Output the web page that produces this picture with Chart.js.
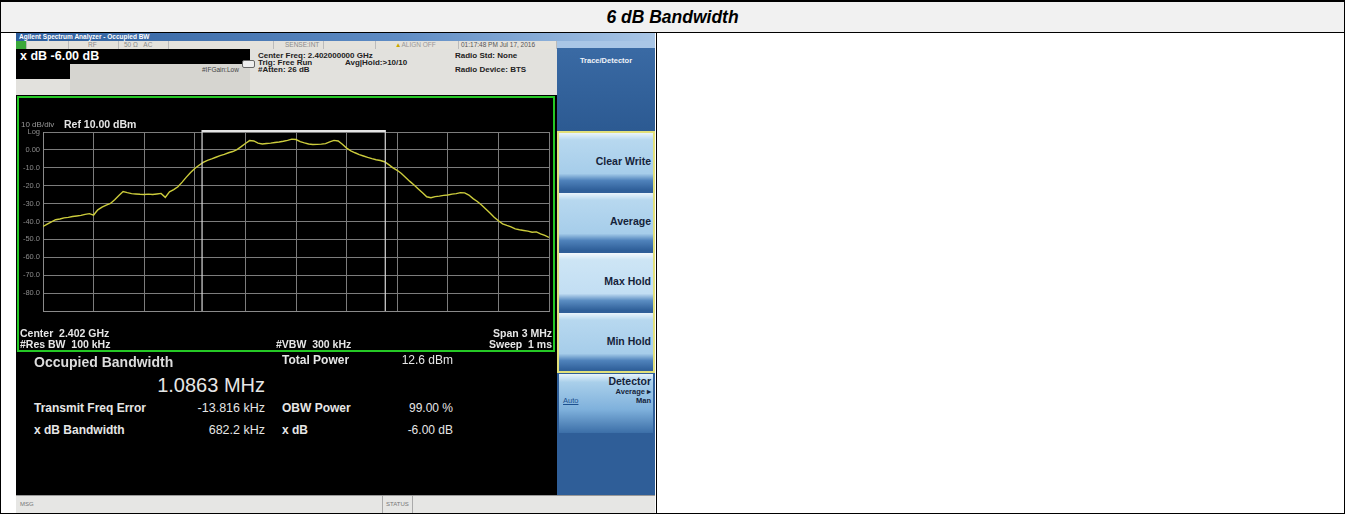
<!DOCTYPE html>
<html>
<head>
<meta charset="utf-8">
<script src="https://cdn.jsdelivr.net/npm/chart.js@4/dist/chart.umd.min.js"></script>
<style>
  body { margin: 0; width: 1346px; height: 515px; background: #fff; font-family: "Liberation Sans", Arial, sans-serif; position: relative; overflow: hidden; }
  .abs { position: absolute; white-space: nowrap; }
  .frame { position: absolute; left: 0; top: 0; width: 1345px; height: 514px; border: 1px solid #000; border-top-width: 2px; box-sizing: border-box; }
  .title-row { position: absolute; left: 1px; top: 2px; width: 1343px; height: 30px; background: #f1f1f1; border-bottom: 1px solid #000; }
  .title-row span { display: block; text-align: center; font: italic bold 17.5px "Liberation Sans", Arial, sans-serif; line-height: 30px; color: #000; }
  .col-div { position: absolute; left: 656px; top: 32px; width: 1px; height: 482px; background: #000; }

  /* analyser screen */
  .scr { position: absolute; left: 16px; top: 33px; width: 639px; height: 480px; background: #000; overflow: hidden; filter: blur(0.35px); }
  .tbar { position: absolute; left: 0; top: 0; width: 639px; height: 8px; background: linear-gradient(90deg, #2c5d9c, #5f8cc4 60%, #a9c6e6); color: #fff; font: bold 6.5px "Liberation Sans", Arial; line-height: 8px; padding-left: 3px; box-sizing: border-box; }
  .sbar { position: absolute; left: 0; top: 8px; width: 541px; height: 8px; background: #e4e2dc; font: 6.5px "Liberation Sans", Arial; color: #8a8a8a; line-height: 8px; }
  .sbar .c { position: absolute; top: 0; height: 8px; border-right: 1px solid #bbb; }
  .info { position: absolute; left: 0; top: 16px; width: 541px; height: 46px; background: #e2e1dd; }
  .info .t { position: absolute; font: bold 8px "Liberation Sans", Arial; color: #222; white-space: nowrap; }
  .plot { position: absolute; left: 1px; top: 63px; width: 538px; height: 256px; border: 2px solid #25c825; box-sizing: border-box; background: #000; }
  .lbl { position: absolute; color: #e6e6e6; white-space: nowrap; }
  .soft { position: absolute; left: 541px; top: 15px; width: 98px; height: 447px; background: #2f5e98; }
  .key { position: absolute; left: 2px; width: 94px; height: 58px; background: linear-gradient(180deg, #eaf4fb 0%, #b7d8ef 12%, #a6cdea 70%, #4f82bb 82%, #2c5c96 100%); color: #15233a; font: bold 10.5px "Liberation Sans", Arial; text-align: right; box-sizing: border-box; padding-right: 2px; }
  .msg { position: absolute; left: 0; top: 462px; width: 639px; height: 18px; background: #e6e6e4; border-top: 1px solid #999; font: 6px "Liberation Sans", Arial; color: #777; }
</style>
</head>
<body>
<div class="title-row"><span>6 dB Bandwidth</span></div>
<div class="frame"></div>
<div class="col-div"></div>

<div class="scr">
  <div class="tbar">Agilent Spectrum Analyzer - Occupied BW</div>
  <div style="position:absolute;left:541px;top:8px;width:98px;height:7px;background:#a9c6e6;"></div>
  <div class="sbar">
    <div class="c" style="left:0;width:10px;background:#3aa83a;"></div>
    <div class="c" style="left:10px;width:42px;"></div>
    <div class="c" style="left:52px;width:50px;"><span style="position:absolute;left:20px;">RF</span></div>
    <div class="c" style="left:102px;width:50px;"><span style="position:absolute;left:6px;">50 Ω &nbsp; AC</span></div>
    <div class="c" style="left:152px;width:105px;"></div>
    <div class="c" style="left:257px;width:50px;"><span style="position:absolute;left:12px;">SENSE:INT</span></div>
    <div class="c" style="left:307px;width:52px;"></div>
    <div class="c" style="left:359px;width:83px;"><span style="position:absolute;left:20px;color:#999;"><span style="color:#c9a800;">&#9650;</span>ALIGN OFF</span></div>
    <div class="c" style="left:442px;width:98px;"><span style="position:absolute;left:3px;color:#555;">01:17:48 PM Jul 17, 2016</span></div>
  </div>
  <div class="info">
    <div style="position:absolute;left:0;top:0;width:234px;height:15px;background:#000;"></div>
    <div class="lbl" style="left:4px;top:0;font:bold 12.5px 'Liberation Sans',Arial;line-height:15px;color:#fff;">x dB -6.00 dB</div>
    <div style="position:absolute;left:0;top:15px;width:54px;height:15px;background:#000;"></div>
    <div style="position:absolute;left:54px;top:15px;width:180px;height:31px;background:#d6d5d0;"></div>
    <div class="t" style="left:186px;top:17px;font-weight:normal;font-size:6.5px;color:#444;">#IFGain:Low</div>
    <div style="position:absolute;left:226px;top:11px;width:11px;height:6px;border:1px solid #666;border-radius:2px;background:#eee;"></div>
    <div class="t" style="left:242px;top:2px;">Center Freq: 2.402000000 GHz</div>
    <div class="t" style="left:242px;top:9px;">Trig: Free Run</div>
    <div class="t" style="left:329px;top:9px;">Avg|Hold:&gt;10/10</div>
    <div class="t" style="left:242px;top:16px;">#Atten: 26 dB</div>
    <div class="t" style="left:439px;top:2px;">Radio Std: None</div>
    <div class="t" style="left:439px;top:16px;">Radio Device: BTS</div>
  </div>

  <div class="plot">
    <canvas id="trace" width="534" height="252" style="position:absolute;left:0;top:0;"></canvas>
    <div class="lbl" style="left:2px;top:22px;font:8px 'Liberation Sans',Arial;color:#9a9a9a;">10 dB/div</div>
    <div class="lbl" style="left:45px;top:20px;font:bold 10.5px 'Liberation Sans',Arial;">Ref 10.00 dBm</div>
    <div class="lbl" style="left:1px;top:229px;font:bold 10.5px 'Liberation Sans',Arial;">Center&nbsp; 2.402 GHz</div>
    <div class="lbl" style="left:1px;top:240px;font:bold 10.5px 'Liberation Sans',Arial;">#Res BW&nbsp; 100 kHz</div>
    <div class="lbl" style="left:257px;top:240px;font:bold 10.5px 'Liberation Sans',Arial;">#VBW&nbsp; 300 kHz</div>
    <div class="lbl" style="right:1px;top:229px;font:bold 10.5px 'Liberation Sans',Arial;">Span 3 MHz</div>
    <div class="lbl" style="right:1px;top:240px;font:bold 10.5px 'Liberation Sans',Arial;">Sweep&nbsp; 1 ms</div>
  </div>

  <div class="lbl" style="left:18px;top:321px;font:bold 14px 'Liberation Sans',Arial;color:#dcdcdc;">Occupied Bandwidth</div>
  <div class="lbl" style="left:120px;top:341px;font:20px 'Liberation Sans',Arial;width:129px;text-align:right;">1.0863 MHz</div>
  <div class="lbl" style="left:18px;top:368px;font:bold 12px 'Liberation Sans',Arial;">Transmit Freq Error</div>
  <div class="lbl" style="left:18px;top:390px;font:bold 12px 'Liberation Sans',Arial;">x dB Bandwidth</div>
  <div class="lbl" style="left:160px;top:368px;font:12.5px 'Liberation Sans',Arial;width:89px;text-align:right;">-13.816 kHz</div>
  <div class="lbl" style="left:160px;top:390px;font:12.5px 'Liberation Sans',Arial;width:89px;text-align:right;">682.2 kHz</div>
  <div class="lbl" style="left:266px;top:320px;font:bold 12px 'Liberation Sans',Arial;">Total Power</div>
  <div class="lbl" style="left:266px;top:368px;font:bold 12px 'Liberation Sans',Arial;">OBW Power</div>
  <div class="lbl" style="left:266px;top:390px;font:bold 12px 'Liberation Sans',Arial;">x dB</div>
  <div class="lbl" style="left:360px;top:320px;font:12px 'Liberation Sans',Arial;width:77px;text-align:right;">12.6 dBm</div>
  <div class="lbl" style="left:360px;top:368px;font:12px 'Liberation Sans',Arial;width:77px;text-align:right;">99.00 %</div>
  <div class="lbl" style="left:360px;top:390px;font:12px 'Liberation Sans',Arial;width:77px;text-align:right;">-6.00 dB</div>

  <div class="soft">
    <div style="position:absolute;left:0;top:0;width:98px;height:83px;background:linear-gradient(180deg,#3a6aa4,#2c5a92);"></div>
    <div class="lbl" style="left:0;width:98px;text-align:center;top:8px;font:bold 7.5px 'Liberation Sans',Arial;color:#f0f4fa;">Trace/Detector</div>
    <div style="position:absolute;left:0;top:83px;width:94px;height:238px;border:2px solid #e2e07a;"></div>
    <div class="key" style="top:85px;line-height:56px;">Clear Write</div>
    <div class="key" style="top:145px;line-height:56px;">Average</div>
    <div class="key" style="top:205px;line-height:56px;background:linear-gradient(180deg,#f4f9fd 0%,#cde5f5 12%,#c2def3 70%,#5b8dc2 82%,#2c5c96 100%);">Max Hold</div>
    <div class="key" style="top:265px;line-height:56px;">Min Hold</div>
    <div class="key" style="top:326px;height:59px;background:linear-gradient(180deg,#e8f3fb 0%,#a9cfea 14%,#7fb1dc 60%,#3c6fa8 100%);">
      <div style="padding-top:2px;line-height:11px;">Detector</div>
      <div style="font-size:7.5px;line-height:9px;">Average &#9656;</div>
      <div style="font-size:7.5px;line-height:9px;">Man</div>
      <div style="position:absolute;left:4px;top:22px;font:7.5px 'Liberation Sans',Arial;color:#1b4f8e;text-decoration:underline;">Auto</div>
    </div>
  </div>

  <div class="msg">
    <span class="abs" style="left:4px;top:5px;">MSG</span>
    <span class="abs" style="left:366px;top:0;height:18px;border-left:1px solid #aaa;border-right:1px solid #aaa;padding:5px 3px 0;box-sizing:border-box;">STATUS</span>
  </div>
</div>

<script>
// sweep setup: 2.402 GHz centre, 3 MHz span, 10 dB/div from a +10 dBm reference
const freqOffsetMHz = [
  -1.500, -1.475, -1.450, -1.425, -1.400, -1.375, -1.350, -1.325, -1.300, -1.275,
  -1.250, -1.225, -1.200, -1.175, -1.150, -1.125, -1.100, -1.075, -1.050, -1.025,
  -1.000, -0.975, -0.950, -0.925, -0.900, -0.875, -0.850, -0.825, -0.800, -0.775,
  -0.750, -0.725, -0.700, -0.675, -0.650, -0.625, -0.600, -0.575, -0.550, -0.525,
  -0.500, -0.475, -0.450, -0.425, -0.400, -0.375, -0.350, -0.325, -0.300, -0.275,
  -0.250, -0.225, -0.200, -0.175, -0.150, -0.125, -0.100, -0.075, -0.050, -0.025,
   0.000,  0.025,  0.050,  0.075,  0.100,  0.125,  0.150,  0.175,  0.200,  0.225,
   0.250,  0.275,  0.300,  0.325,  0.350,  0.375,  0.400,  0.425,  0.450,  0.475,
   0.500,  0.525,  0.550,  0.575,  0.600,  0.625,  0.650,  0.675,  0.700,  0.725,
   0.750,  0.775,  0.800,  0.825,  0.850,  0.875,  0.900,  0.925,  0.950,  0.975,
   1.000,  1.025,  1.050,  1.075,  1.100,  1.125,  1.150,  1.175,  1.200,  1.225,
   1.250,  1.275,  1.300,  1.325,  1.350,  1.375,  1.400,  1.425,  1.450,  1.475,
   1.500
];
const traceDbm = [
  -42.8, -41.5, -40.2, -39.0, -38.6, -38.0, -37.7, -37.2, -36.9, -36.6,
  -36.0, -35.6, -36.4, -33.5, -32.0, -30.8, -29.9, -27.8, -25.5, -23.3,
  -23.9, -24.4, -24.6, -24.8, -24.9, -24.7, -24.9, -24.6, -24.3, -26.5,
  -23.4, -22.2, -20.6, -18.0, -15.2, -12.6, -10.4,  -8.6,  -7.0,  -5.8,
   -5.0,  -4.1,  -3.2,  -2.5,  -1.6,  -0.9,   0.2,   1.8,   3.6,   5.2,
    5.0,   3.8,   3.3,   3.6,   3.8,   4.1,   4.4,   4.8,   5.3,   6.0,
    5.8,   4.6,   3.9,   3.3,   3.0,   3.1,   3.2,   3.5,   4.5,   5.3,
    5.0,   3.2,   1.0,  -0.5,  -1.6,  -2.6,  -3.4,  -4.2,  -4.9,  -5.5,
   -5.9,  -6.6,  -8.2, -10.0, -11.4, -13.2, -15.4, -17.6, -19.6, -21.8,
  -24.0, -26.2, -26.7, -26.1, -25.8, -25.4, -25.2, -24.7, -24.4, -23.9,
  -24.0, -25.2, -27.2, -28.8, -30.8, -33.0, -35.2, -37.6, -39.6, -41.3,
  -42.2, -43.0, -44.1, -44.6, -45.0, -45.4, -46.0, -45.8, -46.9, -47.8,
  -48.9
];
const xGridMHz = [-1.5, -1.2, -0.9, -0.6, -0.3, 0, 0.3, 0.6, 0.9, 1.2, 1.5];
const yGridDbm = [10, 0, -10, -20, -30, -40, -50, -60, -70, -80, -90];
const obwMHz = 1.0863;
const freqErrorKHz = -13.816;

// OBW edges plus the bracket joining them along the reference line
const obwMarkers = {
  id: 'obwMarkers',
  afterDatasetsDraw(chart) {
    const { ctx, scales: { x, y } } = chart;
    const mid = freqErrorKHz / 1000;
    const left = x.getPixelForValue(mid - obwMHz / 2);
    const right = x.getPixelForValue(mid + obwMHz / 2);
    const top = y.getPixelForValue(10), bottom = y.getPixelForValue(-90);
    ctx.save();
    ctx.strokeStyle = '#d8d8d8';
    ctx.lineWidth = 1.2;
    ctx.beginPath();
    ctx.moveTo(left, bottom); ctx.lineTo(left, top - 2);
    ctx.moveTo(right, bottom); ctx.lineTo(right, top - 2);
    ctx.stroke();
    ctx.lineWidth = 2;
    ctx.strokeStyle = '#e4e4e4';
    ctx.beginPath();
    ctx.moveTo(left, top - 1); ctx.lineTo(right, top - 1);
    ctx.stroke();
    ctx.restore();
  }
};

new Chart(document.getElementById('trace'), {
  type: 'line',
  data: {
    datasets: [{
      data: freqOffsetMHz.map((f, i) => ({ x: f, y: traceDbm[i] })),
      borderColor: '#cccc3c',
      borderWidth: 1.4,
      pointRadius: 0,
      tension: 0
    }]
  },
  options: {
    responsive: false,
    animation: false,
    layout: { padding: { top: 34, right: 4, bottom: 39, left: 0 } },
    plugins: { legend: { display: false }, tooltip: { enabled: false } },
    scales: {
      x: {
        type: 'linear', min: -1.5, max: 1.5,
        afterBuildTicks: s => { s.ticks = xGridMHz.map(v => ({ value: v })); },
        afterFit: s => { s.height = 0; },
        ticks: { display: false },
        grid: { color: '#7c7c7c', lineWidth: 1, drawTicks: false },
        border: { color: '#8a8a8a' }
      },
      y: {
        min: -90, max: 10,
        afterBuildTicks: s => { s.ticks = yGridDbm.map(v => ({ value: v })); },
        afterFit: s => { s.width = 24; },
        ticks: {
          color: '#8c8c8c',
          padding: 3,
          font: { family: 'Liberation Sans', size: 7.5 },
          callback: v => v === 10 ? 'Log' : v === -90 ? '' : v === 0 ? '0.00' : v.toFixed(1)
        },
        grid: { color: '#7c7c7c', lineWidth: 1, drawTicks: false },
        border: { color: '#8a8a8a' }
      }
    }
  },
  plugins: [obwMarkers]
});
</script>
</body>
</html>
